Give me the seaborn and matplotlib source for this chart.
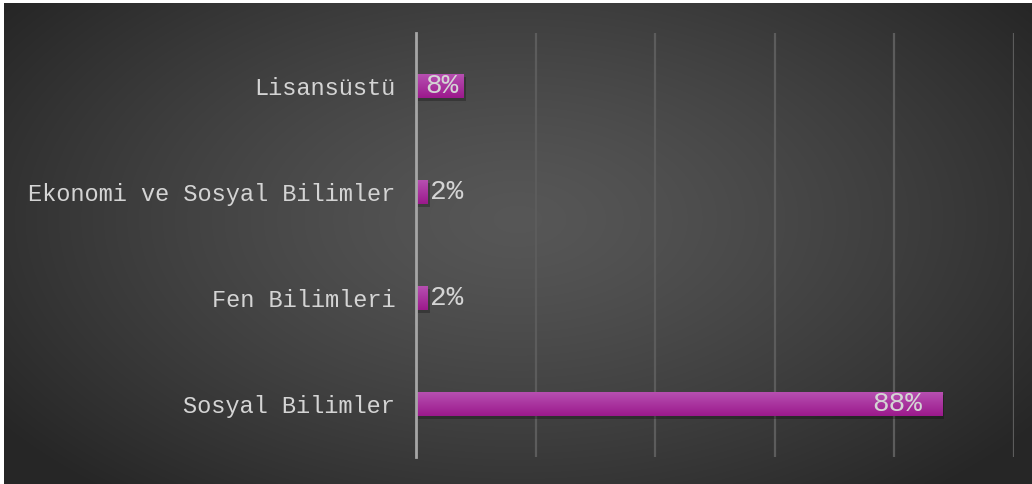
import numpy as np
import pandas as pd
import matplotlib
matplotlib.use('Agg')
import matplotlib.pyplot as plt
import seaborn as sns

# ------------------------------------------------------
# DATA
# ------------------------------------------------------
categories = ['Lisansüstü', 'Ekonomi ve Sosyal Bilimler', 'Fen Bilimleri', 'Sosyal Bilimler']
values = [8, 2, 2, 88]
labels = ['8%', '2%', '2%', '88%']

df = pd.DataFrame({'Alan': categories, 'Oran': values})

# ------------------------------------------------------
# STYLE
# ------------------------------------------------------
sns.set_style('dark')
plt.rcParams['font.family'] = ['Liberation Mono', 'DejaVu Sans Mono']
text_col = '#d4d4d4'
bar_col = '#a92a9c'

fig = plt.figure(figsize=(10.32, 4.84), dpi=100, facecolor='white')

# Dark radial background
bg = fig.add_axes([4 / 1032, 0, 1 - 4 / 1032, 481 / 484])
bg.set_axis_off()
yy, xx = np.mgrid[0:1:300j, 0:1:600j]
r = np.sqrt(((xx - 0.5) / 0.62) ** 2 + ((yy - 0.45) / 0.75) ** 2)
r = np.clip(r, 0, 1)
shade = 0.34 - 0.19 * r ** 1.3
bg.imshow(np.dstack([shade, shade, shade]), aspect='auto', extent=[0, 1, 0, 1], interpolation='bilinear')

# Main axes
ax = fig.add_axes([416 / 1032, 27 / 484, 598 / 1032, 424 / 484])
ax.patch.set_alpha(0)
sns.barplot(data=df, x='Oran', y='Alan', order=categories, color=bar_col,
            width=0.23, saturation=1, ax=ax, edgecolor='none', zorder=3)

# Gradient fill on bars (lighter top, deeper bottom)
grad = np.linspace(0, 1, 50).reshape(-1, 1)
top = np.array([0.72, 0.32, 0.70])
bot = np.array([0.61, 0.10, 0.55])
img = top + (bot - top) * grad[..., None]
for p in list(ax.patches):
    x0, y0 = p.get_x(), p.get_y()
    w, h = p.get_width(), p.get_height()
    # soft shadow
    ax.add_patch(plt.Rectangle((x0 + 0.3, y0 + 0.03), w, h, color='black', alpha=0.25, zorder=2, lw=0))
    im = ax.imshow(img, extent=[x0, x0 + w, y0 + h, y0], aspect='auto', zorder=4, interpolation='bilinear')
    im.set_clip_path(p)
ax.set_xlim(0, 100)
ax.set_ylim(3.5, -0.5)

ax.set_xticks([20, 40, 60, 80, 100])
ax.xaxis.grid(True, color='#5c5c5c', linewidth=1.6, zorder=0)
ax.yaxis.grid(False)
ax.set_xticklabels([])
ax.tick_params(axis='x', length=0)
ax.tick_params(axis='y', length=0, pad=15, labelsize=17, labelcolor=text_col)
ax.set_xlabel('')
ax.set_ylabel('')
for s in ['top', 'right', 'bottom']:
    ax.spines[s].set_visible(False)
ax.spines['left'].set_color('#a6a6a6')
ax.spines['left'].set_linewidth(2)
ax.spines['left'].set_zorder(5)

# Value labels
for i, (v, lab) in enumerate(zip(values, labels)):
    if v > 20:
        ax.text(v - 3.3, i, lab, ha='right', va='center', color=text_col, fontsize=20, zorder=6)
    elif v > 5:
        ax.text(v / 2 + 0.4, i, lab, ha='center', va='center', color=text_col, fontsize=20, zorder=6)
    else:
        ax.text(v + 0.4, i, lab, ha='left', va='center', color=text_col, fontsize=20, zorder=6)

plt.savefig('out.png', dpi=100, facecolor='white')
plt.close('all')
